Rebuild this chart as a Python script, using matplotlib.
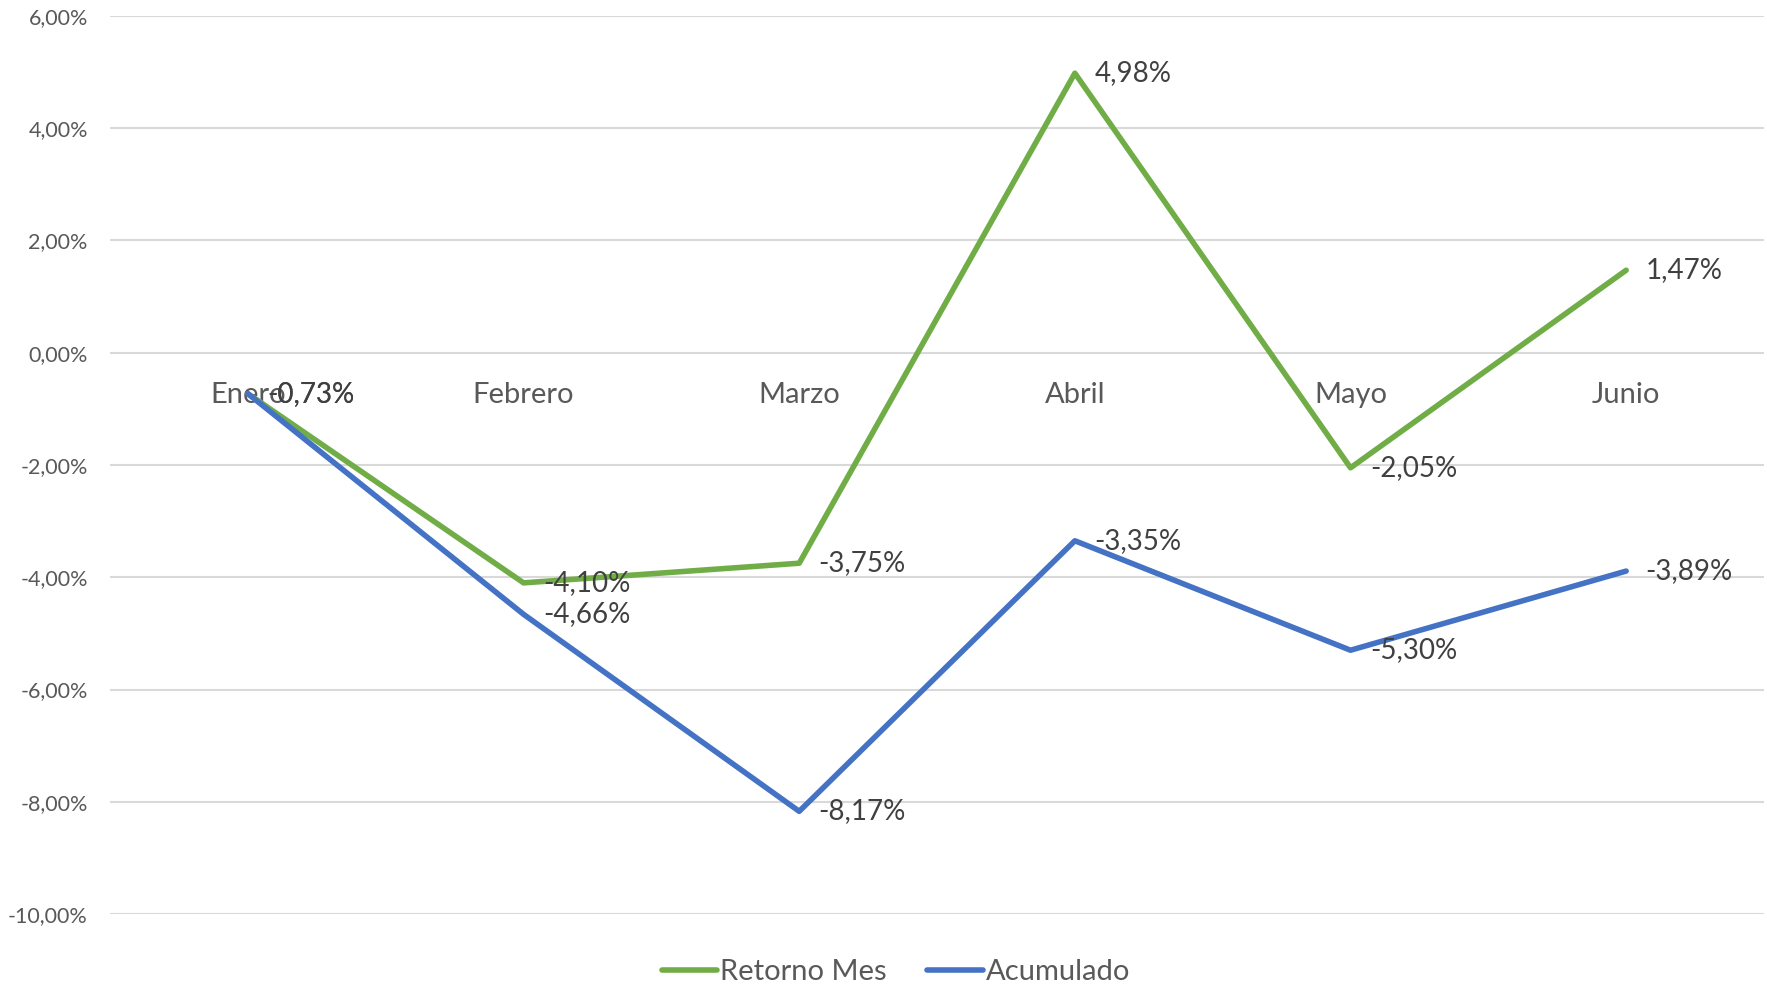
import matplotlib.pyplot as plt
from matplotlib.ticker import FuncFormatter

meses = ["Enero", "Febrero", "Marzo", "Abril", "Mayo", "Junio"]
retorno_mes = [-0.73, -4.10, -3.75, 4.98, -2.05, 1.47]
acumulado = [-0.73, -4.66, -8.17, -3.35, -5.30, -3.89]
y_ticks = [-10, -8, -6, -4, -2, 0, 2, 4, 6]

verde = "#70AD47"
azul = "#4472C4"

def pct(v):
    return f"{v:.2f}%".replace(".", ",")

plt.rcParams['font.family'] = ['Lato', 'DejaVu Sans']

fig = plt.figure(figsize=(17.67, 9.84), dpi=100)
ax = fig.add_axes([0.0623, 0.0711, 0.936, 0.9127])

x = list(range(len(meses)))
ax.plot(x, retorno_mes, color=verde, lw=4, label="Retorno Mes", solid_capstyle="round", zorder=3)
ax.plot(x, acumulado, color=azul, lw=4, label="Acumulado", solid_capstyle="round", zorder=3)

for serie in (acumulado, retorno_mes):
    for xi, v in zip(x, serie):
        ax.annotate(pct(v), (xi, v), xytext=(14, 0), textcoords="offset points",
                    ha="left", va="center", fontsize=20, color="#404040", zorder=4)

ax.set_xlim(-0.5, 5.5)
ax.set_ylim(-10, 6)
ax.set_yticks(y_ticks)
ax.yaxis.set_major_formatter(FuncFormatter(lambda v, p: pct(v)))
ax.grid(axis="y", color="#D9D9D9", lw=1.5, zorder=0)
ax.set_axisbelow(True)

ax.spines["bottom"].set_position(("data", 0))
for s in ax.spines.values():
    s.set_visible(False)
ax.set_xticks(x)
ax.set_xticklabels(meses)
ax.tick_params(axis="x", length=0, pad=21, labelsize=21, labelcolor="#595959")
ax.tick_params(axis="y", length=0, pad=16, labelsize=15.5, labelcolor="#595959")

fig.legend(loc="center", bbox_to_anchor=(0.507, 0.012), ncol=2, frameon=False,
           fontsize=21, labelcolor="#595959", handlelength=1.9, handletextpad=0.1,
           columnspacing=1.4)

fig.savefig("out.png", dpi=100)
